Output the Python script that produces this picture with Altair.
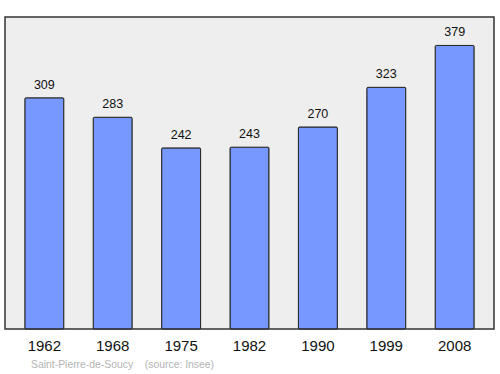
import altair as alt
import pandas as pd

years = ["1962", "1968", "1975", "1982", "1990", "1999", "2008"]
population = [309, 283, 242, 243, 270, 323, 379]
source_text = "Saint-Pierre-de-Soucy\u00a0\u00a0\u00a0\u00a0(source: Insee)"

df = pd.DataFrame({"year": years, "pop": population})

x = alt.X("year:N", sort=years,
          scale=alt.Scale(paddingInner=0.43, paddingOuter=0.29),
          axis=alt.Axis(title=None, labelAngle=0, ticks=False, domain=False,
                        labelPadding=9, labelFontSize=15, labelColor="#111",
                        labelFont="Liberation Sans"))
y = alt.Y("pop:Q", scale=alt.Scale(domain=[0, 417], nice=False, zero=True), axis=None)

bars = alt.Chart(df).mark_bar(color="#7799ff", stroke="#222", strokeWidth=1,
                              cornerRadius=1).encode(x=x, y=y)
labels = alt.Chart(df).mark_text(dy=-13, fontSize=12.5, font="Liberation Sans",
                                 color="#111").encode(x=x, y=y, text="pop:Q")
src = alt.Chart(pd.DataFrame({"t": [source_text]})).mark_text(
    align="left", baseline="middle", fontSize=10.4, font="Liberation Sans", color="#b4b4b4"
).encode(x=alt.value(26), y=alt.value(348), text="t:N")

chart = alt.layer(bars, labels, src).properties(
    width=489, height=312,
    autosize=alt.AutoSizeParams(type="none"),
    padding={"left": 5, "top": 17, "right": 6, "bottom": 45},
).configure_view(fill="#eeeeee", stroke="#333333", strokeWidth=1.5)

chart.save("out.html", embed_options={"renderer": "svg", "actions": False})
